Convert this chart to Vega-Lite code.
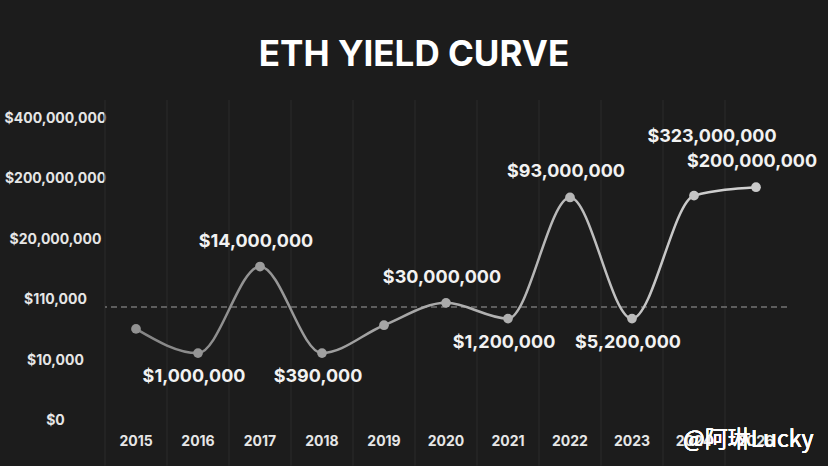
{
  "$schema": "https://vega.github.io/schema/vega-lite/v6.json",
  "description": "ETH yield curve",
  "width": 682,
  "height": 330,
  "autosize": "none",
  "padding": {"left": 105, "top": 100, "right": 41, "bottom": 36},
  "background": "#1c1c1c",
  "title": {
    "text": "ETH YIELD CURVE",
    "font": "Inter",
    "fontSize": 35,
    "fontWeight": "bold",
    "color": "#ffffff",
    "anchor": "middle",
    "dx": -32,
    "offset": 27
  },
  "config": {
    "view": {"stroke": null},
    "text": {"font": "Inter"},
    "axisX": {
      "title": null,
      "labelAngle": 0,
      "labelColor": "#e6e6e6",
      "labelFont": "Inter",
      "labelFontSize": 14,
      "labelFontWeight": "bold",
      "labelPadding": 4,
      "domain": false,
      "ticks": false,
      "grid": false
    }
  },
  "data": {
    "values": [
      {"year": "2015", "level": 1.52, "label": ""},
      {"year": "2016", "level": 1.12, "label": "$1,000,000"},
      {"year": "2017", "level": 2.55, "label": "$14,000,000"},
      {"year": "2018", "level": 1.12, "label": "$390,000"},
      {"year": "2019", "level": 1.58, "label": ""},
      {"year": "2020", "level": 1.95, "label": "$30,000,000"},
      {"year": "2021", "level": 1.69, "label": "$1,200,000"},
      {"year": "2022", "level": 3.69, "label": "$93,000,000"},
      {"year": "2023", "level": 1.69, "label": "$5,200,000"},
      {"year": "2024", "level": 3.72, "label": "$323,000,000"},
      {"year": "2026", "level": 3.86, "label": "$200,000,000"}
    ]
  },
  "layer": [
    {
      "mark": {"type": "rule", "color": "#2b2b2b", "strokeWidth": 1},
      "encoding": {
        "x": {
          "field": "year",
          "type": "ordinal",
          "bandPosition": 0,
          "scale": {"type": "band", "paddingInner": 0, "paddingOuter": 0}
        },
        "y": {"datum": 5.3},
        "y2": {"datum": -0.74}
      }
    },
    {
      "mark": {"type": "rule", "color": "#5e5e5e", "strokeWidth": 1.2, "strokeDash": [6, 4]},
      "encoding": {"y": {"datum": 1.88}}
    },
    {
      "mark": {
        "type": "line",
        "interpolate": "monotone",
        "strokeWidth": 2.5,
        "color": {
          "gradient": "linear",
          "x1": 0, "y1": 0, "x2": 1, "y2": 0,
          "stops": [
            {"offset": 0, "color": "#858585"},
            {"offset": 1, "color": "#d2d2d2"}
          ]
        }
      },
      "encoding": {
        "x": {"field": "year", "type": "ordinal"},
        "y": {
          "field": "level",
          "type": "quantitative",
          "scale": {"domain": [-0.15, 5.3], "nice": false, "zero": false},
          "axis": {
            "title": null,
            "values": [0, 1, 2, 3, 4, 5],
            "labelExpr": "['$0', '$10,000', '$110,000', '$20,000,000', '$200,000,000', '$400,000,000'][datum.value]",
            "labelAlign": "center",
            "labelPadding": 50,
            "labelColor": "#e6e6e6",
            "labelFont": "Inter",
            "labelFontSize": 14,
            "labelFontWeight": "bold",
            "domain": false,
            "ticks": false,
            "grid": false
          }
        }
      }
    },
    {
      "mark": {"type": "circle", "size": 95, "opacity": 1},
      "encoding": {
        "x": {"field": "year", "type": "ordinal"},
        "y": {"field": "level", "type": "quantitative"},
        "color": {
          "field": "year",
          "type": "ordinal",
          "legend": null,
          "scale": {"range": ["#929292", "#959595", "#9c9c9c", "#a0a0a0", "#a5a5a5", "#aaaaaa", "#afafaf", "#b6b6b6", "#bcbcbc", "#c4c4c4", "#cacaca"]}
        }
      }
    },
    {
      "transform": [{"filter": "indexof(['2016', '2018', '2021', '2023'], datum.year) >= 0"}],
      "mark": {"type": "text", "fontSize": 18, "fontWeight": "bold", "color": "#f2f2f2", "dy": 24, "dx": -4},
      "encoding": {
        "x": {"field": "year", "type": "ordinal"},
        "y": {"field": "level", "type": "quantitative"},
        "text": {"field": "label"}
      }
    },
    {
      "transform": [{"filter": "indexof(['2017', '2020', '2022', '2026'], datum.year) >= 0"}],
      "mark": {"type": "text", "fontSize": 18, "fontWeight": "bold", "color": "#f2f2f2", "dy": -25, "dx": -4},
      "encoding": {
        "x": {"field": "year", "type": "ordinal"},
        "y": {"field": "level", "type": "quantitative"},
        "text": {"field": "label"}
      }
    },
    {
      "transform": [{"filter": "datum.year == '2024'"}],
      "mark": {"type": "text", "fontSize": 18, "fontWeight": "bold", "color": "#f2f2f2", "dy": -59, "dx": 18},
      "encoding": {
        "x": {"field": "year", "type": "ordinal"},
        "y": {"field": "level", "type": "quantitative"},
        "text": {"field": "label"}
      }
    },
    {
      "mark": {"type": "text", "font": "Noto Sans CJK SC", "fontSize": 23, "color": "#ffffff", "opacity": 0.5, "align": "left", "dx": -11},
      "encoding": {
        "x": {"datum": "2024"},
        "y": {"datum": -0.31},
        "text": {"value": "@阿琳Lucky"}
      }
    }
  ]
}
